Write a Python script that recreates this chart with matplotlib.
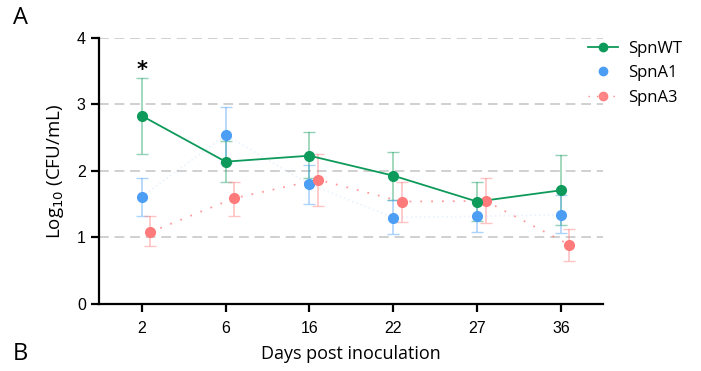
import matplotlib.pyplot as plt
import numpy as np

# Données (Log10 CFU/mL)
days = ["2", "6", "16", "22", "27", "36"]
wt_mean = [2.83, 2.14, 2.23, 1.93, 1.54, 1.71]
wt_low = [2.26, 1.83, 1.89, 1.56, 1.25, 1.19]
wt_high = [3.40, 2.45, 2.58, 2.28, 1.83, 2.24]
a1_mean = [1.61, 2.54, 1.80, 1.30, 1.32, 1.34]
a1_low = [1.33, 2.12, 1.50, 1.05, 1.09, 1.07]
a1_high = [1.89, 2.96, 2.09, 1.56, 1.55, 1.64]
a3_mean = [1.08, 1.59, 1.87, 1.54, 1.55, 0.89]
a3_low = [0.87, 1.33, 1.48, 1.23, 1.22, 0.64]
a3_high = [1.33, 1.84, 2.26, 1.84, 1.89, 1.13]

GREEN = "#0E9A5A"
BLUE = "#4C9EF5"
RED = "#FF7A7A"

fig = plt.figure(figsize=(7.01, 3.71), dpi=100)
ax = fig.add_axes([0.1412, 0.1806, 0.7189, 0.717])

x = np.arange(len(days))
off = 0.1

def errs(m, lo, hi):
    m = np.array(m)
    return [m - np.array(lo), np.array(hi) - m]

# barres d'erreur
ax.errorbar(x, wt_mean, yerr=errs(wt_mean, wt_low, wt_high), fmt="none",
            ecolor=GREEN, alpha=0.45, capsize=4, elinewidth=1.2, zorder=2)
ax.errorbar(x, a1_mean, yerr=errs(a1_mean, a1_low, a1_high), fmt="none",
            ecolor=BLUE, alpha=0.45, capsize=4, elinewidth=1.2, zorder=2)
ax.errorbar(x + off, a3_mean, yerr=errs(a3_mean, a3_low, a3_high), fmt="none",
            ecolor=RED, alpha=0.45, capsize=4, elinewidth=1.2, zorder=2)

# lignes
ax.plot(x, a1_mean, linestyle=":", color=BLUE, alpha=0.12, lw=1.2, zorder=3)
ax.plot(x + off, a3_mean, linestyle=(0, (1, 5)), color=RED, alpha=0.75, lw=1.3, zorder=3)
ax.plot(x, wt_mean, "-", color=GREEN, lw=1.3, zorder=4)

# points
ax.plot(x, a1_mean, "o", color=BLUE, ms=7, zorder=5)
ax.plot(x + off, a3_mean, "o", color=RED, ms=7, zorder=5)
ax.plot(x, wt_mean, "o", color=GREEN, ms=7, zorder=6)

# légende
h_wt, = ax.plot([], [], "-o", color=GREEN, ms=6, lw=1.3)
h_a1, = ax.plot([], [], "o", color=BLUE, ms=6)
h_a3, = ax.plot([], [], linestyle=(0, (1, 5)), marker="o", color=RED, ms=6, lw=1.0, alpha=0.9)
leg = fig.legend([h_wt, h_a1, h_a3], ["SpnWT", "SpnA1", "SpnA3"],
                 loc="upper left", bbox_to_anchor=(0.818, 0.93), frameon=False,
                 handlelength=1.8, handletextpad=0.6, labelspacing=0.5,
                 prop={"family": "Open Sans", "size": 12})

# grille
for y in [1, 2, 3, 4]:
    ax.axhline(y, color="#D0D0D0", linestyle=(0, (5, 3)), lw=1.4, zorder=0)

ax.text(0, 3.52, "*", ha="center", va="center", fontsize=15, fontweight="bold")

ax.set_xlim(-0.51, 5.5)
ax.set_ylim(0, 4)
ax.set_xticks(x)
ax.set_xticklabels(days, family="Liberation Sans", fontsize=11.5)
ax.set_yticks([0, 1, 2, 3, 4])
ax.set_yticklabels(["0", "1", "2", "3", "4"], family="Liberation Sans", fontsize=11.5)
ax.spines["top"].set_visible(False)
ax.spines["right"].set_visible(False)
ax.spines["left"].set_linewidth(1.6)
ax.spines["bottom"].set_linewidth(1.6)
ax.tick_params(width=1.6, length=6)
ax.tick_params(axis="x", pad=6)

ax.set_xlabel("Days post inoculation", family="Open Sans", fontsize=13, labelpad=7)
ax.set_ylabel("Log$_{10}$ (CFU/mL)", family="Open Sans", fontsize=13.5, labelpad=8)

fig.text(0.018, 0.935, "A", fontsize=17, family="Open Sans")
fig.text(0.018, 0.03, "B", fontsize=17, family="Open Sans")

plt.savefig("out.png", dpi=100)
